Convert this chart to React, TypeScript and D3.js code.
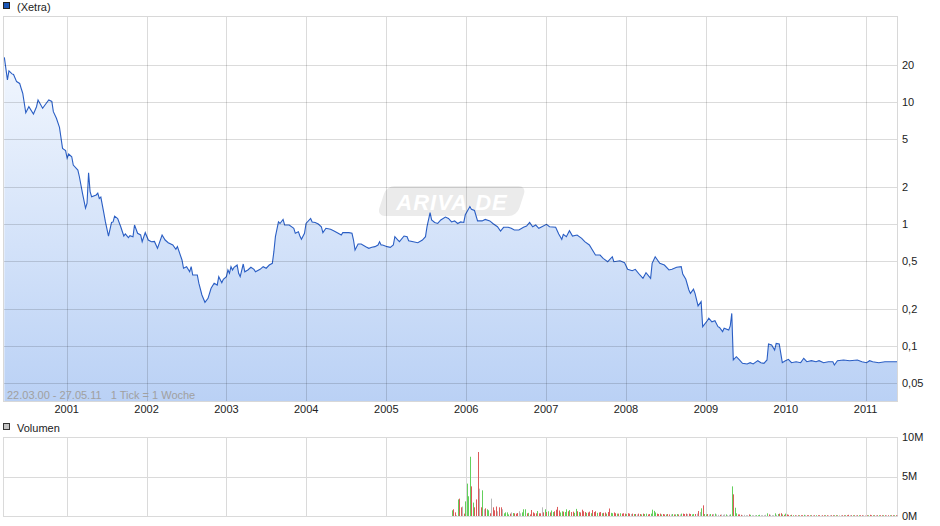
import React from "react";
import * as d3 from "d3";

// ---- data ----
const startDate = new Date(2000, 2, 22);
const endDate = new Date(2011, 4, 27);

// price: week index since 22.03.2000 and close value (EUR), log scale
const priceWeeks = [0,2,3,5,6,8,10,11,12,14,16,19,21,22,25,27,29,31,32,34,36,38,40,41,42,44,45,48,49,51,53,54,55,56,57,60,61,62,63,65,66,68,70,71,72,74,76,78,79,81,82,84,85,87,89,90,92,94,96,98,100,103,105,107,110,112,113,116,117,119,121,122,123,126,127,129,131,133,135,137,139,140,142,143,145,146,147,148,149,150,152,153,154,156,157,159,161,163,164,167,169,171,173,175,176,177,179,180,182,183,186,189,190,192,193,194,196,197,200,201,203,205,207,208,210,213,215,218,220,221,225,227,228,229,231,233,236,238,240,242,244,245,246,247,250,252,254,255,257,258,261,263,264,267,270,273,275,276,278,279,281,283,285,288,290,292,294,296,298,300,301,304,305,307,309,312,314,317,319,322,324,326,329,331,333,336,339,341,343,345,347,349,351,354,356,360,362,364,365,367,369,371,374,377,379,382,386,389,391,394,397,398,402,405,407,410,412,415,417,419,422,423,425,428,431,434,436,439,442,443,445,447,448,450,451,453,455,456,459,460,462,464,466,467,469,470,473,474,475,476,478,480,482,485,487,489,492,494,496,498,499,501,503,504,506,508,510,512,514,517,520,522,524,527,530,532,535,538,541,542,544,548,552,557,560,563,565,567,571,575,579,583];
const priceValues = [23.2,15.2,18.0,17.0,16.8,14.7,14.2,12.9,11.8,8.17,9.15,7.97,9.15,10.4,8.88,9.63,10.4,10.1,8.33,7.35,6.20,4.17,3.99,3.46,3.75,3.56,3.04,2.77,2.44,1.79,1.35,1.48,2.63,1.84,1.67,1.73,1.79,1.62,1.66,1.22,1.04,0.797,1.03,1.04,1.16,1.11,0.950,0.797,0.828,0.772,0.802,0.787,0.981,0.839,0.813,0.716,0.849,0.739,0.716,0.72,0.632,0.813,0.739,0.703,0.673,0.620,0.652,0.507,0.434,0.447,0.406,0.447,0.382,0.382,0.327,0.262,0.228,0.246,0.297,0.327,0.316,0.370,0.330,0.352,0.370,0.420,0.394,0.447,0.420,0.442,0.461,0.394,0.370,0.470,0.406,0.420,0.442,0.425,0.406,0.425,0.447,0.434,0.461,0.476,0.593,0.787,1.04,1.01,1.09,0.981,0.981,0.922,0.839,0.865,0.797,0.749,0.839,1.01,1.11,1.04,1.03,1.00,0.950,0.849,0.922,0.905,0.881,0.839,0.813,0.849,0.849,0.839,0.739,0.612,0.686,0.686,0.652,0.632,0.644,0.652,0.673,0.716,0.673,0.673,0.652,0.644,0.673,0.787,0.739,0.716,0.797,0.787,0.730,0.716,0.703,0.739,0.787,0.950,1.24,1.08,1.03,1.01,1.08,1.14,1.11,1.04,1.06,1.01,1.04,1.03,1.19,1.39,1.32,1.29,1.06,1.06,1.09,1.06,1.01,0.950,0.876,0.940,0.940,0.922,0.893,0.893,0.940,0.963,1.03,0.950,0.981,0.922,0.950,0.994,0.950,0.940,0.828,0.749,0.823,0.787,0.881,0.797,0.813,0.763,0.716,0.673,0.557,0.557,0.523,0.491,0.539,0.491,0.500,0.482,0.425,0.414,0.425,0.382,0.359,0.399,0.359,0.476,0.539,0.476,0.461,0.420,0.425,0.442,0.447,0.389,0.352,0.288,0.270,0.292,0.270,0.213,0.231,0.144,0.161,0.169,0.158,0.161,0.144,0.142,0.131,0.140,0.135,0.146,0.185,0.0768,0.0817,0.0768,0.0721,0.0712,0.0730,0.0712,0.0758,0.0730,0.0721,0.0768,0.104,0.102,0.0927,0.105,0.104,0.0730,0.0758,0.0778,0.0730,0.0743,0.0730,0.0793,0.0743,0.0758,0.0743,0.0758,0.0730,0.0743,0.0743,0.0699,0.0758,0.0768,0.0758,0.0768,0.0743,0.0730,0.0758,0.0743,0.0730,0.0743,0.0743,0.0743];

// volume (millions), weekly from week 292; direction g=up r=down n=unchanged
const volStartWeek = 292;
const volValues = [
  .72,.85,.46,.1,2.1,2.2,1.1,1.2,.3,1.85,
  4.1,2.5,7.5,3.75,1.7,1.1,2.1,8.1,3.46,1.1,
  3.25,.85,.97,.85,.72,.34,2.2,1.1,.72,1.2,
  .6,1.1,1.1,.85,.34,.46,.46,.2,.3,.46,
  .38,.34,.3,.38,.6,.34,.46,.85,.85,.34,
  .4,.2,.76,.46,.34,.34,.63,.34,.34,1.1,
  .46,.85,.5,.6,.45,.7,.5,.6,.8,1.15,
  .7,.45,.6,.55,.5,.85,.6,.75,.5,.55,
  .4,.9,.6,.5,.45,.8,.6,.5,.4,.45,
  .55,.35,.75,.5,.6,.4,.45,.5,.35,.4,
  .45,.3,.5,.95,.4,.35,.45,.35,.3,.3,
  .35,.3,.35,.3,.25,.35,.3,.25,.3,.25,
  .25,.2,.3,.25,.2,.3,.25,.3,.2,.25,
  .3,.8,.65,.45,.3,.25,.3,.2,.25,.2,
  .2,.25,.2,.2,.25,.2,.2,.25,.2,.2,
  .3,.3,.25,.3,.25,.3,.25,.2,.25,.25,
  .3,.63,.5,.97,1.35,.25,.2,.25,.2,.25,
  .2,.25,.3,.2,.15,.15,.2,.15,.2,.2,
  .1,.15,.2,3.75,2.74,1.05,.34,.2,.2,.15,
  .1,.15,.1,.1,.2,.15,.1,.1,.1,.1,
  .1,.15,.1,.1,.1,.15,.34,.2,.15,.1,
  .1,.34,.15,.25,.3,.35,.2,.15,.3,.2,
  .15,.1,.15,.1,.1,.1,.1,.1,.1,.1,
  .15,.1,.1,.1,.1,.1,.1,.1,.1,.1,
  .1,.05,.1,.1,.1,.1,.05,.1,.1,.1,
  .1,.1,.1,.05,.1,.1,.1,.1,.1,.15,
  .1,.1,.1,.1,.1,.1,.1,.1,.1,.1,
  .05,.1,.1,.15,.1,.1,.1,.1,.1,.1,
  .1,.1,.1,.1,.1,.1,.1,.1,.1,.1,
  .1,.1,
];
const volDirs = [
  "grrngrrnrg","gggrgrrrnr","gnrggrnrrr","nrrnggggrn","grrrnngggr","grrrrrgrrn",
  "rgrgrggrrr","rggrggrgrr","ggrgrrrrgr","rgrrrgrrgr","rgrrggrrgr","grrrgrrnrg",
  "rnrrgrggrr","ggggrrrgrr","grrngrggrn","grrrnrrggr","nrngrggrng","rngnnrnnng",
  "nnggrggrrr","nnnnrgnnng","ggnnnngrnn","ngngrrgrgr","rgrgrnrgrr","gnrrgrnrgr",
  "rnrrgrrnrr","grgrnrrgrr","nrgrnrgrrn","rrgrrgrnrg","rrgrnrgrrg","rn",
].join("");

const yTicks = [20, 10, 5, 2, 1, 0.5, 0.2, 0.1, 0.05];
const yTickLabels = ["20", "10", "5", "2", "1", "0,5", "0,2", "0,1", "0,05"];
const yearTicks = [2001, 2002, 2003, 2004, 2005, 2006, 2007, 2008, 2009, 2010, 2011];
const volTicks = [0, 5, 10];
const volTickLabels = ["0M", "5M", "10M"];

const FONT = "'Liberation Sans', Arial, sans-serif";

export default function App() {
  const W = 940, H = 526;
  const L = 3, R = 898, T = 16, B = 401;
  const VT = 437, VB = 516;

  const x = d3.scaleTime().domain([startDate, endDate]).range([4.35, 897.6]);
  const y = d3.scaleLog().domain([0.03541, 50.7]).range([B, T]);
  const yv = d3.scaleLinear().domain([0, 10]).range([VB, VT]);
  const weekDate = (w: number) => d3.timeDay.offset(startDate, w * 7);

  const pts = priceWeeks.map((w, i) => ({ d: weekDate(w), v: priceValues[i] }));
  const line = d3.line<{ d: Date; v: number }>().x(p => x(p.d)).y(p => y(p.v));
  const area = d3.area<{ d: Date; v: number }>().x(p => x(p.d)).y0(B).y1(p => y(p.v));

  const gridStroke = "rgba(0,0,0,0.14)";
  const colors: Record<string, string> = { g: "#63d05c", r: "#dc5a5a", n: "#b8b8b8" };

  return (
    <svg width={W} height={H} style={{ display: "block", position: "absolute", left: 0, top: 0 }} fontFamily={FONT}>
      <defs>
        <linearGradient id="fillG" gradientUnits="userSpaceOnUse" x1="0" y1={T} x2="0" y2={B}>
          <stop offset="0" stopColor="#f8fbff" />
          <stop offset="1" stopColor="#bad1f5" />
        </linearGradient>
        <clipPath id="plotClip"><rect x={L} y={T} width={R - L} height={B - T} /></clipPath>
      </defs>
      <rect width={W} height={H} fill="#fff" />

      {/* legend */}
      <rect x={3.5} y={2.5} width={6} height={6} fill="#1a56b8" stroke="#222" strokeWidth={1} />
      <text x={17} y={10.5} fontSize={11} fill="#222">(Xetra)</text>

      {/* watermark */}
      <g transform="translate(452,200)">
        <rect x={-70} y={-14} width={140} height={30} rx={8} fill="#ebebeb" transform="skewX(-18)" />
        <text x={0} y={10} textAnchor="middle" fontSize={22} fontWeight="bold" fontStyle="italic" fill="#fff" letterSpacing={1}>ARIVA.DE</text>
      </g>

      {/* area & line */}
      <g clipPath="url(#plotClip)">
        <path d={area(pts) || ""} fill="url(#fillG)" />
        <path d={line(pts) || ""} fill="none" stroke="#2a5ec4" strokeWidth={1.1} />
      </g>

      {/* grid */}
      {yTicks.map(t => (
        <line key={"gy" + t} x1={L} x2={R} y1={Math.round(y(t)) + 0.5} y2={Math.round(y(t)) + 0.5} stroke={gridStroke} />
      ))}
      {yearTicks.map(yr => {
        const xx = Math.round(x(new Date(yr, 0, 1))) + 0.5;
        return <line key={"gx" + yr} x1={xx} x2={xx} y1={T} y2={B} stroke={gridStroke} />;
      })}
      <rect x={L + 0.5} y={T + 0.5} width={R - L - 1} height={B - T} fill="none" stroke="#d8d8d8" />

      {/* y labels */}
      {yTicks.map((t, i) => (
        <text key={"ly" + t} x={902} y={y(t)} dy="0.35em" fontSize={11} fill="#222">{yTickLabels[i]}</text>
      ))}
      {/* year labels */}
      {yearTicks.map(yr => (
        <text key={"lx" + yr} x={x(new Date(yr, 0, 1))} y={413} textAnchor="middle" fontSize={11} fill="#222">{yr}</text>
      ))}
      <text x={7} y={399} fontSize={11} fill="#a0a0a0" style={{ whiteSpace: "pre" }}>{"22.03.00 - 27.05.11   1 Tick = 1 Woche"}</text>

      {/* volume panel */}
      <rect x={3.5} y={423.5} width={6} height={6} fill="#c4c4c4" stroke="#333" strokeWidth={1} />
      <text x={17} y={432} fontSize={11} fill="#222">Volumen</text>
      {volTicks.map(t => (
        <line key={"vg" + t} x1={L} x2={R} y1={Math.round(yv(t)) + 0.5} y2={Math.round(yv(t)) + 0.5} stroke="#dadada" />
      ))}
      {yearTicks.map(yr => {
        const xx = Math.round(x(new Date(yr, 0, 1))) + 0.5;
        return <line key={"vx" + yr} x1={xx} x2={xx} y1={VT} y2={VB} stroke="#dadada" />;
      })}
      <line x1={L + 0.5} x2={L + 0.5} y1={VT} y2={VB} stroke="#dadada" />
      <line x1={R - 0.5} x2={R - 0.5} y1={VT} y2={VB} stroke="#dadada" />
      {volValues.map((v, i) => {
        const xx = Math.round(x(weekDate(volStartWeek + i)));
        const top = yv(v);
        return <rect key={"vb" + i} x={xx} y={top} width={1} height={Math.max(0, VB - top)} fill={colors[volDirs[i]] || colors.n} />;
      })}
      {volTicks.map((t, i) => (
        <text key={"vl" + t} x={902} y={yv(t)} dy="0.35em" fontSize={11} fill="#222">{volTickLabels[i]}</text>
      ))}
    </svg>
  );
}
